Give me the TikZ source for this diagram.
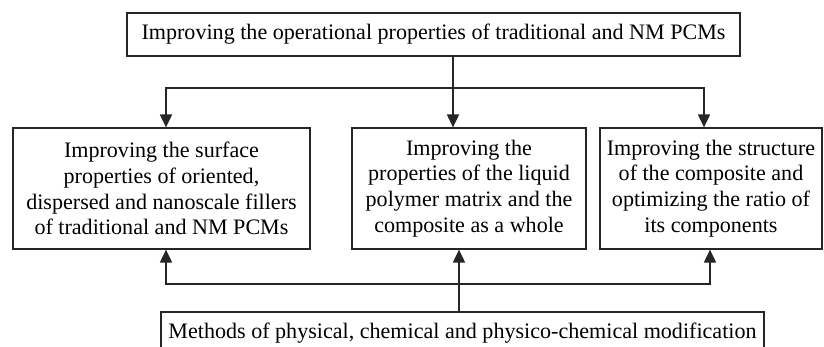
\documentclass[tikz,border=0pt]{standalone}
\usepackage{fontspec}
\setmainfont{Liberation Serif}
\usetikzlibrary{arrows.meta}
\tikzset{box/.style={draw=black!85, line width=0.6pt, rectangle, inner sep=0pt, align=center, font=\fontsize{10.6}{12.4}\selectfont},
  link/.style={line width=0.7pt, black!85},
  arr/.style={link, -{Triangle[width=5.8pt,length=6.2pt]}}}

\begin{document}
\begin{tikzpicture}[x=0.48pt,y=-0.48pt]
\useasboundingbox (0,0) rectangle (824,346);
\clip (0,0) rectangle (824,346);

\node [box, minimum width=294.2pt, minimum height=20.6pt] (top) at (433.5,34.5) {Improving the operational properties of traditional and NM PCMs};
\node [box, minimum width=142.6pt, minimum height=58.1pt] (left) at (161.5,188.5) {Improving the surface\\ properties of oriented,\\ dispersed and nanoscale fillers\\ of traditional and NM PCMs};
\node [box, minimum width=112.3pt, minimum height=58.1pt] (mid) at (469,188.5) {Improving the\\ properties of the liquid\\ polymer matrix and the\\ composite as a whole};
\node [box, minimum width=106.6pt, minimum height=58.1pt] (right) at (711,188.5) {Improving the structure\\ of the composite and\\ optimizing the ratio of\\ its components};
\node [box, minimum width=289.4pt, minimum height=20.6pt] (bot) at (462.5,333.5) {Methods of physical, chemical and physico-chemical modification};

\coordinate (tx) at (453,88);
\coordinate (bx) at (459,284);
\coordinate (lx) at (166,0);
\coordinate (rx) at (704,0);
\coordinate (rx2) at (710,0);

\draw [link] (top.south -| tx) -- (tx);
\draw [arr] (tx) -| (left.north -| lx);
\draw [arr] (tx) -- (mid.north -| tx);
\draw [arr] (tx) -| (right.north -| rx);

\draw [arr] (bot.north -| bx) -- (mid.south -| bx);
\draw [arr] (bx) -| (left.south -| lx);
\draw [arr] (bx) -| (right.south -| rx2);

\end{tikzpicture}
\end{document}
